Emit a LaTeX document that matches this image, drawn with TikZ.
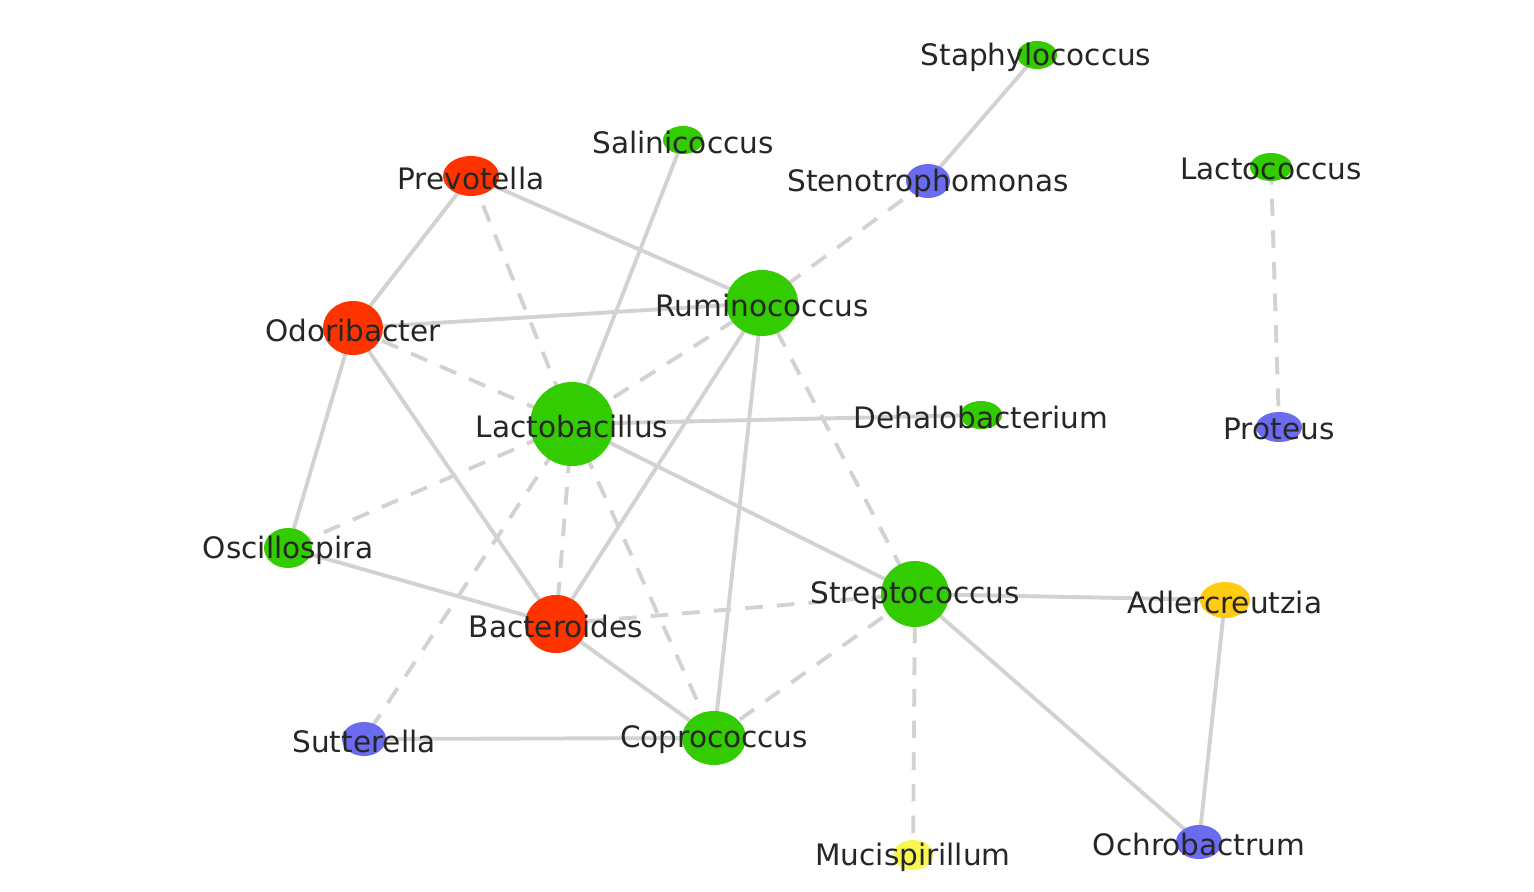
\documentclass[tikz,border=0pt]{standalone}
\usepackage{fontspec}
\setmainfont{DejaVu Sans}
\usetikzlibrary{shapes.geometric,backgrounds}
\definecolor{gn}{HTML}{33CC00}
\definecolor{rd}{HTML}{FF3300}
\definecolor{bl}{HTML}{6B6BF0}
\definecolor{og}{HTML}{FFCC11}
\definecolor{ly}{HTML}{F8F850}
\definecolor{eg}{HTML}{D2D2D2}
\tikzset{
 dot/.style={ellipse,inner sep=0pt,draw=none},
 lbl/.style={font=\fontsize{8.4}{10}\selectfont,inner sep=0pt,text=black!85},
 sol/.style={draw=eg,line width=1.1pt},
 dsh/.style={draw=eg,line width=1.1pt,dash pattern=on 5pt off 4pt}
}
\begin{document}
\begin{tikzpicture}[x=0.01cm,y=-0.01cm]
\useasboundingbox (0,0) rectangle (1534,891);
\def\nd#1#2#3#4#5#6{\node[dot,fill=#4,minimum width=#5*0.01cm,minimum height=#6*0.01cm] (#1) at (#2,#3) {};}
\nd{sta}{1037}{55}{gn}{40}{28}
\nd{sal}{683}{140}{gn}{40}{28}
\nd{pre}{471}{176}{rd}{56}{40}
\nd{ste}{928}{181}{bl}{44}{34}
\nd{lcc}{1271}{167}{gn}{42}{28}
\nd{rum}{762}{303}{gn}{72}{66}
\nd{odo}{353}{328}{rd}{60}{54}
\nd{lba}{572}{424}{gn}{84}{84}
\nd{deh}{981}{415}{gn}{42}{28}
\nd{pro}{1279}{427}{bl}{46}{30}
\nd{osc}{288}{548}{gn}{48}{40}
\nd{str}{915}{594}{gn}{68}{66}
\nd{adl}{1225}{600}{og}{50}{36}
\nd{bac}{556}{624}{rd}{62}{58}
\nd{sut}{364}{739}{bl}{44}{34}
\nd{cop}{714}{738}{gn}{64}{54}
\nd{muc}{913}{855}{ly}{40}{30}
\nd{och}{1199}{842}{bl}{46}{34}
\begin{scope}[on background layer]
\fill[white] (0,0) rectangle (1534,891);
\foreach \a/\b in {sta/ste,pre/rum,pre/odo,sal/lba,odo/rum,odo/osc,odo/bac,rum/bac,rum/cop,lba/deh,lba/str,osc/bac,bac/cop,sut/cop,str/adl,str/och,adl/och}
 \draw[sol] (\a.center) -- (\b.center);
\foreach \a/\b in {ste/rum,lcc/pro,pre/lba,odo/lba,rum/lba,rum/str,lba/osc,lba/bac,lba/cop,lba/sut,bac/str,cop/str,str/muc}
 \draw[dsh] (\a.center) -- (\b.center);
\end{scope}
\node[lbl] (tsta) at (1036,57) {Staphylococcus};
\node[lbl] (tsal) at (683,142) {Salinicoccus};
\node[lbl] (tpre) at (471,178) {Prevotella};
\node[lbl] (tste) at (928,183) {Stenotrophomonas};
\node[lbl] (tlcc) at (1271,169) {Lactococcus};
\node[lbl] (trum) at (762,305) {Ruminococcus};
\node[lbl] (todo) at (353,330) {Odoribacter};
\node[lbl] (tlba) at (572,426) {Lactobacillus};
\node[lbl] (tdeh) at (981,417) {Dehalobacterium};
\node[lbl] (tpro) at (1279,429) {Proteus};
\node[lbl] (tosc) at (288,550) {Oscillospira};
\node[lbl] (tstr) at (915,596) {Streptococcus};
\node[lbl] (tadl) at (1225,602) {Adlercreutzia};
\node[lbl] (tbac) at (556,626) {Bacteroides};
\node[lbl] (tsut) at (364,741) {Sutterella};
\node[lbl] (tcop) at (714,740) {Coprococcus};
\node[lbl] (tmuc) at (913,857) {Mucispirillum};
\node[lbl] (toch) at (1199,844) {Ochrobactrum};
\end{tikzpicture}
\end{document}
